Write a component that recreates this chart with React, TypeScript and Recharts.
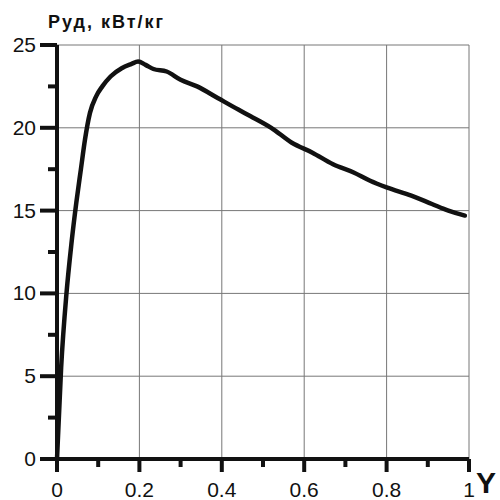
import { LineChart, Line, XAxis, YAxis, CartesianGrid } from "recharts";

// Y (share) values along the curve
const xValues = [
  0, 0.01, 0.023, 0.035, 0.047, 0.058, 0.068, 0.08, 0.095, 0.11, 0.13, 0.157,
  0.18, 0.197, 0.215, 0.234, 0.266, 0.3, 0.34, 0.39, 0.44, 0.47, 0.52, 0.57,
  0.62, 0.67, 0.72, 0.76, 0.8, 0.86, 0.91, 0.95, 0.99,
];
// specific power, kW/kg
const pValues = [
  0, 5.5, 10, 13, 15.5, 17.5, 19.3, 20.9, 21.9, 22.5, 23.1, 23.6, 23.85, 24.0,
  23.8, 23.55, 23.4, 22.9, 22.5, 21.8, 21.1, 20.7, 20.0, 19.1, 18.5, 17.8, 17.3,
  16.8, 16.4, 15.9, 15.4, 15.0, 14.7,
];

const xTicks = [0, 0.1, 0.2, 0.3, 0.4, 0.5, 0.6, 0.7, 0.8, 0.9, 1];
const xGrid = [0.2, 0.4, 0.6, 0.8, 1];
const yTicks = [0, 2.5, 5, 7.5, 10, 12.5, 15, 17.5, 20, 22.5, 25];
const yGrid = [5, 10, 15, 20, 25];

const yLabel = "Руд, кВт/кг";
const xLabel = "Y";

const data = xValues.map((x, i) => ({ x, p: pValues[i] }));

const isStep = (v: number, step: number) =>
  Math.abs(v / step - Math.round(v / step)) < 1e-6;

const XTick = (props: any) => {
  const { x, y, payload } = props;
  const v = payload.value as number;
  const major = isStep(v, 0.2);
  return (
    <g>
      <line x1={x} x2={x} y1={y} y2={y + (major ? 13 : 8)} stroke="#111" strokeWidth={4} />
      {major && (
        <text x={x} y={y + 38} textAnchor="middle" fontSize={21} fill="#111"
          fontFamily="'Liberation Sans', Arial, sans-serif">
          {String(v)}
        </text>
      )}
    </g>
  );
};

const YTick = (props: any) => {
  const { x, y, payload } = props;
  const v = payload.value as number;
  const major = isStep(v, 5);
  return (
    <g>
      <line x1={x - (major ? 17 : 9)} x2={x} y1={y} y2={y} stroke="#111" strokeWidth={4} />
      {major && (
        <text x={x - 21} y={y + 7} textAnchor="end" fontSize={21} fill="#111"
          fontFamily="'Liberation Sans', Arial, sans-serif">
          {String(v)}
        </text>
      )}
    </g>
  );
};

const App = () => {
  return (
    <div style={{ position: "absolute", left: 0, top: 0, width: 500, height: 500, background: "#fff" }}>
      <LineChart width={500} height={500} data={data}
        margin={{ top: 45, right: 31, bottom: 0, left: 0 }}>
        <CartesianGrid stroke="#777" strokeWidth={1}
          verticalValues={xGrid} horizontalValues={yGrid} />
        <XAxis dataKey="x" type="number" domain={[0, 1]} ticks={xTicks} interval={0}
          height={41} tickSize={0} tickMargin={0} tickLine={false}
          axisLine={{ stroke: "#111", strokeWidth: 4 }} tick={<XTick />} />
        <YAxis type="number" domain={[0, 25]} ticks={yTicks} interval={0}
          width={57} tickSize={0} tickMargin={0} tickLine={false}
          axisLine={{ stroke: "#111", strokeWidth: 4 }} tick={<YTick />} />
        <Line type="monotone" dataKey="p" stroke="#111" strokeWidth={4.5} dot={false}
          strokeLinejoin="round" strokeLinecap="round" isAnimationActive={false} />
      </LineChart>
      <svg width={500} height={500} style={{ position: "absolute", left: 0, top: 0, pointerEvents: "none" }}>
        <text x={48} y={28} fontSize={18} fontWeight="bold" fill="#111" textLength={115}
          lengthAdjust="spacing" fontFamily="'Liberation Sans', Arial, sans-serif">
          {yLabel}
        </text>
        <text x={476} y={493} fontSize={30} fontWeight="bold" fill="#111"
          fontFamily="'Liberation Sans', Arial, sans-serif">
          {xLabel}
        </text>
      </svg>
    </div>
  );
};

export default App;
